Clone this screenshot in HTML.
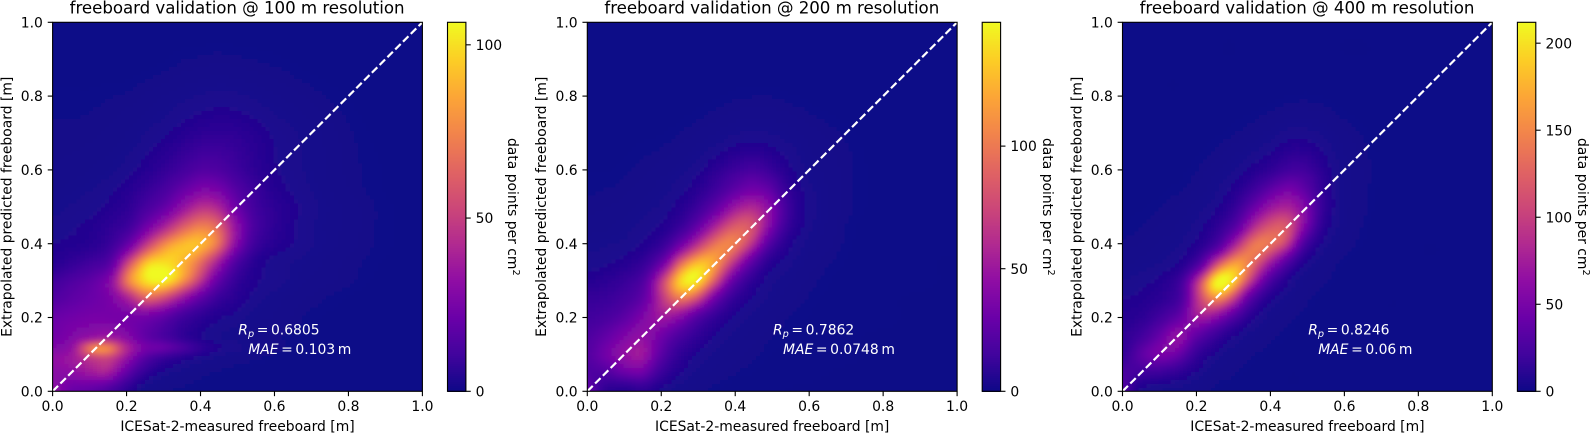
<!DOCTYPE html>
<html lang="en">
<head>
<meta charset="utf-8">
<title>Freeboard validation</title>
<style>
  html, body { margin: 0; padding: 0; background: #fff; }
  svg { display: block; }
  text { font-family: "DejaVu Sans", "Liberation Sans", sans-serif; font-size: 13.9px; fill: #000; }
  .title { font-size: 16.67px; text-anchor: middle; letter-spacing: -0.05px; }
  .axis-label { text-anchor: middle; }
  .note, .note tspan { fill: #fff; word-spacing: -1.8px; }
  .it { font-style: italic; }
</style>
</head>
<body>
<svg id="figure" xmlns="http://www.w3.org/2000/svg" width="1591" height="435" viewBox="0 0 1591 435">
  <defs>
    <filter id="soft" x="-5%" y="-5%" width="110%" height="110%"><feGaussianBlur stdDeviation="2"/></filter>
    <clipPath id="axes-clip"><rect x="0" y="22.3" width="369.8" height="369"/></clipPath>
  </defs>

  <g id="panel-100" transform="translate(52.6,0)">
    <rect x="0" y="22.3" width="369.8" height="369" fill="#0d0887"/>
    <g class="cells" clip-path="url(#axes-clip)"><g class="mesh" filter="url(#soft)"></g></g>
    <g class="overlay"></g>
    <text class="title" x="184.5" y="13.5">freeboard validation @ 100 m resolution</text>
    <text class="axis-label" x="184.9" y="431">ICESat-2-measured freeboard [m]</text>
    <text class="axis-label" transform="translate(-41.2,206.8) rotate(-90)">Extrapolated predicted freeboard [m]</text>
    <text class="axis-label" transform="translate(455.5,206.8) rotate(90)">data points per cm<tspan dy="-5" font-size="9.7">2</tspan></text>
    <text class="note" x="185.7" y="334.3"><tspan class="it">R</tspan><tspan class="it" dy="2.5" font-size="9.7">p</tspan><tspan dy="-2.5"> = 0.6805</tspan></text>
    <text class="note" x="195.7" y="354"><tspan class="it">MAE</tspan><tspan> = 0.103 m</tspan></text>
  </g>

  <g id="panel-200" transform="translate(587.3,0)">
    <rect x="0" y="22.3" width="369.8" height="369" fill="#0d0887"/>
    <g class="cells" clip-path="url(#axes-clip)"><g class="mesh" filter="url(#soft)"></g></g>
    <g class="overlay"></g>
    <text class="title" x="184.5" y="13.5">freeboard validation @ 200 m resolution</text>
    <text class="axis-label" x="184.9" y="431">ICESat-2-measured freeboard [m]</text>
    <text class="axis-label" transform="translate(-41.2,206.8) rotate(-90)">Extrapolated predicted freeboard [m]</text>
    <text class="axis-label" transform="translate(455.5,206.8) rotate(90)">data points per cm<tspan dy="-5" font-size="9.7">2</tspan></text>
    <text class="note" x="185.7" y="334.3"><tspan class="it">R</tspan><tspan class="it" dy="2.5" font-size="9.7">p</tspan><tspan dy="-2.5"> = 0.7862</tspan></text>
    <text class="note" x="195.7" y="354"><tspan class="it">MAE</tspan><tspan> = 0.0748 m</tspan></text>
  </g>

  <g id="panel-400" transform="translate(1122.5,0)">
    <rect x="0" y="22.3" width="369.8" height="369" fill="#0d0887"/>
    <g class="cells" clip-path="url(#axes-clip)"><g class="mesh" filter="url(#soft)"></g></g>
    <g class="overlay"></g>
    <text class="title" x="184.5" y="13.5">freeboard validation @ 400 m resolution</text>
    <text class="axis-label" x="184.9" y="431">ICESat-2-measured freeboard [m]</text>
    <text class="axis-label" transform="translate(-41.2,206.8) rotate(-90)">Extrapolated predicted freeboard [m]</text>
    <text class="axis-label" transform="translate(455.5,206.8) rotate(90)">data points per cm<tspan dy="-5" font-size="9.7">2</tspan></text>
    <text class="note" x="185.7" y="334.3"><tspan class="it">R</tspan><tspan class="it" dy="2.5" font-size="9.7">p</tspan><tspan dy="-2.5"> = 0.8246</tspan></text>
    <text class="note" x="195.7" y="354"><tspan class="it">MAE</tspan><tspan> = 0.06 m</tspan></text>
  </g>
</svg>

<script>
// Sample positions of the density grids (freeboard, metres)
const xSamples = [0,.05,.1,.15,.2,.25,.3,.35,.4,.45,.5,.55,.6,.7,.8,.9,1];
const ySamples100 = [1,.9,.8,.7,.6,.55,.5,.45,.4,.35,.3,.25,.2,.15,.12,.09,.05,0];
const ySamples = [1,.9,.8,.7,.6,.55,.5,.45,.4,.35,.3,.25,.2,.15,.1,.05,0];

// Tick labels
const axisTicks = ["0.0","0.2","0.4","0.6","0.8","1.0"];
const colorTicks100 = [0,50,100];
const colorTicks200 = [0,50,100];
const colorTicks400 = [0,50,100,150,200];

// Colour-scale maxima (data points per cm2)
const colorMax100 = 106.5;
const colorMax200 = 150.5;
const colorMax400 = 212;

// Estimated density, data points per cm2; rows top (y=1) to bottom (y=0)
const density100 = [
[.5,.5,.5,.5,.5,.5,.5,.5,.5,.5,.5,.5,.5,.5,.5,.5,.5],
[.5,.5,.5,.5,.5,.6,.7,.9,1,1.1,1,.9,.8,.6,.5,.5,.5],
[.8,.8,.8,.9,1,1.3,1.7,2.2,2.7,3,2.8,2.3,1.8,1.1,.7,.5,.5],
[1,1,1.1,1.3,1.7,2.5,3.5,5,6.5,7,6.5,5,3.5,2,1,.6,.5],
[1.3,1.4,1.7,2.2,3.2,5,7.5,11,15,14,10,6.5,4.2,2.2,1.1,.7,.5],
[1.6,2,2.5,3.3,5,8,12,19,26,24,15,9,5,2.5,1.2,.7,.5],
[2.2,2.7,3.2,4.5,6.5,12,19,32,45,40,21,10.5,6.5,3,1.5,.8,.6],
[3,3.5,4.5,6.5,9.5,21,37,58,72,61,30,12,6.5,2.7,1.5,.8,.6],
[4,4.5,5.5,8.5,19,45,74,90,90,66,27,9.5,5.3,2.7,1.4,.8,.6],
[5.5,7.5,10.5,15,48,90,100,90,66,35,13,5.3,3.2,2,1.1,.7,.5],
[10.5,14,18,27,69,99,104,80,45,18,7.5,4.2,3.2,1.6,1,.6,.5],
[15,18,21,25,37,58,51,32,17,8.5,5.3,3.2,2,1.1,.7,.5,.5],
[21,23,25,25,24,23,18,10.5,6.4,4.2,3.2,2,1.6,.8,.6,.5,.5],
[23,27,32,35,29,19,13,7.5,4.2,2.7,2,1.4,1,.7,.5,.5,.5],
[27,32,70,75,42,25,21,14,7.5,4.2,3,1.6,1.1,.6,.5,.5,.5],
[32,36,46,50,32,15,8,5,3.2,2,1.3,1,.7,.5,.5,.5,.5],
[30,30,35,36,18,7,3.2,2,1.1,.8,.6,.5,.5,.5,.5,.5,.5],
[32,21,18,13,6.4,2,1,.8,.6,.5,.5,.5,.5,.5,.5,.5,.5]
];
const density200 = [
[.4,.4,.4,.4,.4,.4,.4,.4,.4,.4,.4,.4,.4,.4,.4,.4,.4],
[.4,.4,.4,.4,.4,.4,.4,.5,.6,.6,.6,.5,.5,.4,.4,.4,.4],
[.5,.5,.5,.5,.6,.7,.8,1,1.2,1.3,1.3,1.1,.9,.6,.5,.4,.4],
[.7,.7,.8,.9,1,1.3,1.8,2.5,3.5,4,3.5,2.8,2,1.2,.7,.5,.4],
[1,1,1.2,1.5,2,3,5,9,14,17,12,6,3,1.5,.8,.5,.4],
[1.2,1.3,1.5,2,3,4.5,8,15,25,32,24,9,4,1.5,.8,.5,.4],
[1.5,1.7,2,3,4,7,14,28,50,58,38,12,4.5,1.5,.8,.5,.4],
[2,2.2,3,4,6,12,28,58,85,78,35,10,4,1.3,.7,.5,.4],
[3,3.5,4,6,11,30,65,100,100,58,18,6,3,1.2,.6,.4,.4],
[4.5,5,7,11,28,85,128,112,60,22,7,4,2,1,.6,.4,.3],
[7,9,12,20,65,135,140,75,24,9,4,2.5,1.5,.8,.5,.4,.3],
[12,13,17,27,62,95,70,27,10,5,3,1.8,1.2,.7,.4,.3,.3],
[15,18,25,38,50,40,20,10,5,3,2,1.2,1,.5,.4,.3,.3],
[20,27,38,45,32,18,10,5,3,2,1.3,1,.7,.4,.3,.3,.3],
[22,33,45,50,24,10,5,3,2,1.4,1,.7,.5,.4,.3,.3,.3],
[20,20,28,30,13,6,3,2,1.3,1,.7,.5,.4,.3,.3,.3,.3],
[30,9,7,9,5,2.5,1.5,1,.7,.5,.4,.3,.3,.3,.3,.3,.3]
];
const density400 = [
[.5,.5,.5,.5,.5,.5,.5,.5,.5,.5,.5,.5,.5,.5,.5,.5,.5],
[.5,.5,.5,.5,.5,.5,.5,.6,.6,.7,.7,.6,.5,.5,.5,.5,.5],
[.5,.5,.5,.5,.6,.7,.9,1,1.2,1.5,1.6,1.4,1,.7,.5,.5,.5],
[.6,.6,.7,.8,1,1.3,1.8,2.5,4,6,6,4.5,2.5,1.2,.6,.5,.5],
[.8,.9,1,1.2,1.8,3,5,9,14,22,20,10,4,1.4,.7,.5,.5],
[1,1,1.3,1.7,2.5,4.5,9,18,35,48,32,12,4,1.3,.7,.5,.5],
[1.2,1.4,1.8,2.5,4,7,15,38,68,78,48,13,4,1.2,.6,.5,.5],
[1.5,1.8,2.5,3.5,6,12,28,75,115,110,45,10,3.5,1,.6,.5,.5],
[2,2.5,3.5,5,9,22,70,135,135,85,20,6,2.5,.9,.5,.5,.5],
[3,4,5,8,22,90,160,135,72,26,7,3,1.5,.7,.5,.5,.5],
[5,6.5,9,17,80,205,190,88,26,8,3,2,1,.6,.5,.5,.5],
[8,9,13,22,85,145,95,28,9,4,2,1.2,.8,.5,.5,.5,.5],
[10,13,22,38,70,58,28,10,4,2.2,1.3,.9,.6,.5,.5,.5,.5],
[13,22,40,65,35,18,8,4,2.2,1.4,.9,.6,.5,.5,.5,.5,.5],
[16,35,50,40,16,7,3.5,2,1.3,.9,.6,.5,.5,.5,.5,.5,.5],
[26,20,18,13,7,3,2,1.2,.8,.5,.5,.5,.5,.5,.5,.5,.5],
[32,7,5,4,3,1.5,1,.7,.5,.5,.5,.5,.5,.5,.5,.5,.5]
];

const plasma = ["#0d0887","#41049d","#6a00a8","#8f0da4","#b12a90","#cc4778","#e16462","#f2844b","#fca636","#fcce25","#f0f921"];

const SVGNS = "http://www.w3.org/2000/svg";
const AX_W = 369.8, AX_TOP = 22.3, AX_BOTTOM = 391.3, CB_LEFT = 394.9, CB_W = 18.4, TICK = 4.86, PAD = 4.86;

function xScale(v) { return v * AX_W; }
function yScale(v) { return AX_BOTTOM - v * (AX_BOTTOM - AX_TOP); }
function colorY(v, vmax) { return AX_BOTTOM - (v / vmax) * (AX_BOTTOM - AX_TOP); }

function colorScale(v, vmax) {
  const t = Math.max(0, Math.min(1, v / vmax)) * (plasma.length - 1);
  const i = Math.min(plasma.length - 2, Math.floor(t));
  const f = t - i;
  const a = plasma[i], b = plasma[i + 1];
  const ch = k => {
    const p = parseInt(a.substr(k, 2), 16), q = parseInt(b.substr(k, 2), 16);
    return Math.round(p + (q - p) * f);
  };
  return "rgb(" + ch(1) + "," + ch(3) + "," + ch(5) + ")";
}

function fracIndex(asc, v) {
  if (v <= asc[0]) return 0;
  for (let i = 0; i < asc.length - 1; i++) {
    if (v <= asc[i + 1]) return i + (v - asc[i]) / (asc[i + 1] - asc[i]);
  }
  return asc.length - 1;
}
function weights(t) {
  return [
    -0.5*t + t*t - 0.5*t*t*t,
    1 - 2.5*t*t + 1.5*t*t*t,
    0.5*t + 2*t*t - 1.5*t*t*t,
    -0.5*t*t + 0.5*t*t*t
  ];
}
// Smooth display resampling of the grid, done in log space so blobs stay bell-shaped
function sampleGrid(grid, ysAsc, x, y) {
  const nx = xSamples.length, ny = ysAsc.length;
  const fx = fracIndex(xSamples, x), fy = fracIndex(ysAsc, y);
  const ix = Math.min(nx - 2, Math.floor(fx)), iy = Math.min(ny - 2, Math.floor(fy));
  const wx = weights(fx - ix), wy = weights(fy - iy);
  let s = 0;
  for (let b = 0; b < 4; b++) {
    const rowIdx = Math.max(0, Math.min(ny - 1, iy + b - 1));
    const row = grid[ny - 1 - rowIdx];
    for (let a = 0; a < 4; a++) {
      const colIdx = Math.max(0, Math.min(nx - 1, ix + a - 1));
      s += wx[a] * wy[b] * Math.log(Math.max(0.05, row[colIdx]));
    }
  }
  return Math.exp(s);
}

function svgEl(tag, parent, props) {
  const e = document.createElementNS(SVGNS, tag);
  for (const k in props) e.setAttribute(k, props[k]);
  parent.appendChild(e);
  return e;
}

function drawHeatmap(panel, grid, ys, vmax) {
  const mesh = panel.querySelector(".mesh");
  const ysAsc = ys.slice().reverse();
  const N = 92;
  const frag = document.createDocumentFragment();
  for (let j = -3; j < N + 3; j++) {
    for (let i = -3; i < N + 3; i++) {
      const xv = (i + 0.5) / N, yv = (j + 0.5) / N;
      const val = sampleGrid(grid, ysAsc, Math.max(0, Math.min(1, xv)), Math.max(0, Math.min(1, yv)));
      const r = svgEl("rect", frag, {
        x: xScale(i / N).toFixed(2),
        y: yScale((j + 1) / N).toFixed(2),
        width: (AX_W / N + 0.6).toFixed(2),
        height: ((AX_BOTTOM - AX_TOP) / N + 0.6).toFixed(2),
        fill: colorScale(val, vmax),
        "shape-rendering": "crispEdges"
      });
      
      
    }
  }
  mesh.appendChild(frag);
}

function drawOverlay(panel, vmax, colorTicks) {
  const g = panel.querySelector(".overlay");

  const line = svgEl("line", g, {
    x1: xScale(0), y1: yScale(0), x2: xScale(1), y2: yScale(1),
    stroke: "#fff", "stroke-width": 2.2, "stroke-dasharray": "7.7 3.3"
  });
  
  

  const frame = svgEl("rect", g, {
    x: 0, y: AX_TOP, width: AX_W, height: AX_BOTTOM - AX_TOP,
    fill: "none", stroke: "#000", "stroke-width": 1.11
  });
  
  

  axisTicks.forEach(function (label) {
    const v = parseFloat(label);

    const xt = svgEl("line", g, { x1: xScale(v), x2: xScale(v), y1: AX_BOTTOM, y2: AX_BOTTOM + TICK, stroke: "#000", "stroke-width": 1.11 });
    
    
    const xl = svgEl("text", g, { x: xScale(v), y: AX_BOTTOM + TICK + PAD + 10.2, "text-anchor": "middle" });
    xl.textContent = label;
    
    

    const yt = svgEl("line", g, { x1: -TICK, x2: 0, y1: yScale(v), y2: yScale(v), stroke: "#000", "stroke-width": 1.11 });
    
    
    const yl = svgEl("text", g, { x: -TICK - PAD, y: yScale(v) + 5.1, "text-anchor": "end" });
    yl.textContent = label;
    
    
  });

  const levels = 185;
  for (let k = 0; k < levels; k++) {
    const lo = (k / levels) * vmax, hi = ((k + 1) / levels) * vmax;
    const band = svgEl("rect", g, {
      x: CB_LEFT, y: colorY(hi, vmax).toFixed(2), width: CB_W,
      height: (colorY(lo, vmax) - colorY(hi, vmax) + 0.5).toFixed(2),
      fill: colorScale((lo + hi) / 2, vmax), "shape-rendering": "crispEdges"
    });
    
    
  }

  const cbFrame = svgEl("rect", g, {
    x: CB_LEFT, y: AX_TOP, width: CB_W, height: AX_BOTTOM - AX_TOP,
    fill: "none", stroke: "#000", "stroke-width": 1.11
  });
  
  

  colorTicks.forEach(function (v) {
    const cy = colorY(v, vmax);
    const ct = svgEl("line", g, { x1: CB_LEFT + CB_W, x2: CB_LEFT + CB_W + TICK, y1: cy, y2: cy, stroke: "#000", "stroke-width": 1.11 });
    
    
    const cl = svgEl("text", g, { x: CB_LEFT + CB_W + TICK + PAD, y: cy + 5.1 });
    cl.textContent = String(v);
    
    
  });
}

const p100 = document.getElementById("panel-100");
const p200 = document.getElementById("panel-200");
const p400 = document.getElementById("panel-400");
drawHeatmap(p100, density100, ySamples100, colorMax100);
drawOverlay(p100, colorMax100, colorTicks100);
drawHeatmap(p200, density200, ySamples, colorMax200);
drawOverlay(p200, colorMax200, colorTicks200);
drawHeatmap(p400, density400, ySamples, colorMax400);
drawOverlay(p400, colorMax400, colorTicks400);
</script>
</body>
</html>
